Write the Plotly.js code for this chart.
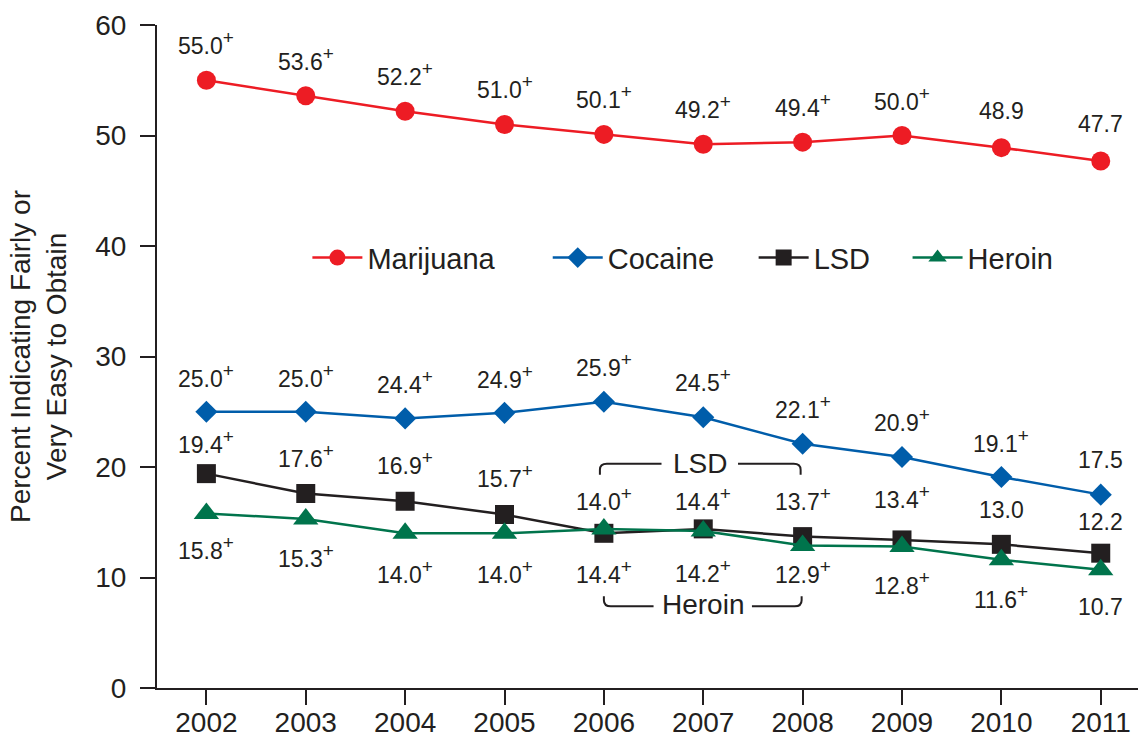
<!DOCTYPE html>
<html>
<head>
<meta charset="utf-8">
<script src="https://cdn.plot.ly/plotly-3.0.1.min.js"></script>
<style>
  html, body { margin: 0; padding: 0; background: #ffffff; }
  #chart { width: 1138px; height: 742px; }
</style>
</head>
<body>
<div id="chart"></div>
<script>
// ---- data ----
const years = [2002, 2003, 2004, 2005, 2006, 2007, 2008, 2009, 2010, 2011];

const marijuana = [55.0, 53.6, 52.2, 51.0, 50.1, 49.2, 49.4, 50.0, 48.9, 47.7];
const cocaine   = [25.0, 25.0, 24.4, 24.9, 25.9, 24.5, 22.1, 20.9, 19.1, 17.5];
const lsd       = [19.4, 17.6, 16.9, 15.7, 14.0, 14.4, 13.7, 13.4, 13.0, 12.2];
const heroin    = [15.8, 15.3, 14.0, 14.0, 14.4, 14.2, 12.9, 12.8, 11.6, 10.7];

// "+" marks (significant difference flags)
const marijuanaPlus = [true, true, true, true, true, true, true, true, false, false];
const cocainePlus   = [true, true, true, true, true, true, true, true, true, false];
const lsdPlus       = [true, true, true, true, true, true, true, true, false, false];
const heroinPlus    = [true, true, true, true, true, true, true, true, true, false];

const yTicks = [0, 10, 20, 30, 40, 50, 60];

// ---- label placement (pixel offsets of value labels from their points) ----
const marijuanaShift = [-37, -37, -37, -37, -37, -37, -37, -37, -37, -37];
const cocaineShift   = [-36, -36, -36, -36, -37, -37, -37, -37, -36, -35];
const lsdShift       = [-32, -38, -38, -39, -34, -30, -38, -43, -34, -31];
const heroinShift    = [35, 37, 39, 39, 43, 40, 27, 36, 37, 37];

const ink = '#231F20';
const FONT = 'Liberation Sans, Arial, Helvetica, sans-serif';

const colors = {
  marijuana: '#ED1C24',
  cocaine: '#005DAA',
  lsd: '#231F20',
  heroin: '#00744C'
};

function series(name, y, color, symbol, size, legendId) {
  return {
    type: 'scatter', mode: 'lines+markers', name: name,
    x: years, y: y,
    line: { color: color, width: 2.5 },
    marker: { color: color, symbol: symbol, size: size },
    legend: legendId,
    hoverinfo: 'x+y+name'
  };
}

const traces = [
  series('Marijuana', marijuana, colors.marijuana, 'circle', 19, 'legend'),
  series('Cocaine', cocaine, colors.cocaine, 'diamond', 17, 'legend2'),
  series('LSD', lsd, colors.lsd, 'square', 19, 'legend3'),
  series('Heroin', heroin, colors.heroin, 'triangle-up', 22, 'legend4')
];

const PLUS = '<sup><span style="font-size:19px">+</span></sup>';
function labels(vals, plus, shifts) {
  return vals.map((v, i) => ({
    x: years[i], y: v, xref: 'x', yref: 'y',
    text: v.toFixed(1) + (plus[i] ? PLUS : ''),
    showarrow: false,
    xanchor: 'center', yanchor: 'middle',
    yshift: -shifts[i],
    font: { family: FONT, size: 23, color: ink }
  }));
}

const annotations = [].concat(
  labels(marijuana, marijuanaPlus, marijuanaShift),
  labels(cocaine, cocainePlus, cocaineShift),
  labels(lsd, lsdPlus, lsdShift),
  labels(heroin, heroinPlus, heroinShift),
  [
    { x: 2006.97, y: 20.36, xref: 'x', yref: 'y', text: 'LSD', showarrow: false,
      xanchor: 'center', yanchor: 'middle', font: { family: FONT, size: 28, color: ink } },
    { x: 2007.0, y: 7.6, xref: 'x', yref: 'y', text: 'Heroin', showarrow: false,
      xanchor: 'center', yanchor: 'middle', font: { family: FONT, size: 28, color: ink } }
  ]
);

const bracketLine = { color: ink, width: 2 };
const shapes = [
  // LSD bracket (opens downward)
  { type: 'path', xref: 'x', yref: 'y', line: bracketLine,
    path: 'M2005.96,19.3 L2005.96,19.75 Q2005.96,20.3 2006.03,20.3 L2006.58,20.3' },
  { type: 'path', xref: 'x', yref: 'y', line: bracketLine,
    path: 'M2007.35,20.3 L2007.91,20.3 Q2007.98,20.3 2007.98,19.75 L2007.98,19.3' },
  // Heroin bracket (opens upward)
  { type: 'path', xref: 'x', yref: 'y', line: bracketLine,
    path: 'M2006.0,8.3 L2006.0,7.95 Q2006.0,7.4 2006.07,7.4 L2006.5,7.4' },
  { type: 'path', xref: 'x', yref: 'y', line: bracketLine,
    path: 'M2007.49,7.4 L2007.92,7.4 Q2007.99,7.4 2007.99,7.95 L2007.99,8.3' }
];

function legendAt(x) {
  return {
    x: x, y: 0.649, xref: 'paper', yref: 'paper',
    xanchor: 'left', yanchor: 'middle',
    orientation: 'h', bgcolor: 'rgba(0,0,0,0)', borderwidth: 0,
    itemwidth: 50,
    font: { family: FONT, size: 29, color: ink }
  };
}

const layout = {
  width: 1138, height: 742,
  margin: { l: 157, r: 0, t: 25, b: 54, pad: 0 },
  paper_bgcolor: '#ffffff', plot_bgcolor: '#ffffff',
  font: { family: FONT, color: ink },
  showlegend: true,
  legend: legendAt(0.1533),
  legend2: legendAt(0.3983),
  legend3: legendAt(0.6082),
  legend4: legendAt(0.7651),
  xaxis: {
    range: [2001.503, 2011.375],
    tickmode: 'array', tickvals: years, ticktext: years.map(String),
    showgrid: false, zeroline: false,
    showline: true, linecolor: ink, linewidth: 2,
    ticks: 'outside', ticklen: 15, tickwidth: 2, tickcolor: ink,
    tickfont: { family: FONT, size: 28, color: ink },
    ticklabelstandoff: -7,
    fixedrange: true
  },
  yaxis: {
    range: [0, 60],
    tickmode: 'array', tickvals: yTicks, ticktext: yTicks.map(String),
    showgrid: false, zeroline: false,
    showline: true, linecolor: ink, linewidth: 2,
    ticks: 'outside', ticklen: 15, tickwidth: 2, tickcolor: ink,
    tickfont: { family: FONT, size: 28, color: ink },
    ticklabelstandoff: 8,
    title: { text: 'Percent Indicating Fairly or<br>Very Easy to Obtain',
             font: { family: FONT, size: 28, color: ink }, standoff: 20 },
    automargin: false,
    fixedrange: true
  },
  annotations: annotations,
  shapes: shapes
};

Plotly.newPlot('chart', traces, layout, { displayModeBar: false, staticPlot: true });
</script>
</body>
</html>
